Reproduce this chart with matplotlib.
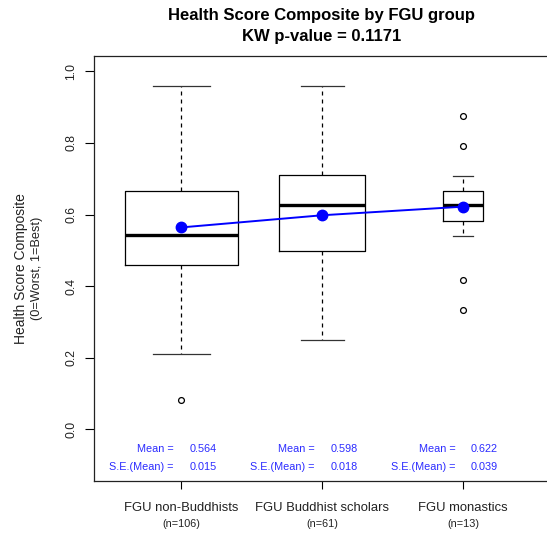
import matplotlib

matplotlib.use("Agg")
import matplotlib.pyplot as plt
import numpy as np

plt.rcParams["font.family"] = ["Liberation Sans", "DejaVu Sans"]

# ---------------------------------------------------------------- data
groups = ["FGU non-Buddhists", "FGU Buddhist scholars", "FGU monastics"]
counts = [106, 61, 13]
whisk_lo = [0.209, 0.249, 0.541]
q1 = [0.458, 0.499, 0.582]
medians = [0.542, 0.626, 0.626]
q3 = [0.666, 0.710, 0.666]
whisk_hi = [0.959, 0.960, 0.709]
outliers = [[0.081], [], [0.875, 0.791, 0.418, 0.334]]
means = [0.564, 0.598, 0.622]
se_means = [0.015, 0.018, 0.039]
p_value = 0.1171

W, H = 547, 533
fig = plt.figure(figsize=(W / 100, H / 100), dpi=100)
# axes frame in pixels: left 94, right ~550 (cropped), top 55.7, bottom 480.7
ax = fig.add_axes([94 / W, (H - 480.7) / H, 456.4 / W, 425 / H])

pos = np.arange(1, len(groups) + 1)
widths = [0.8 * np.sqrt(n / max(counts)) for n in counts]   # varwidth boxes
stats = [dict(whislo=a, q1=b, med=c, q3=d, whishi=e, fliers=f)
         for a, b, c, d, e, f in zip(whisk_lo, q1, medians, q3, whisk_hi, outliers)]

ax.bxp(stats, positions=pos, widths=widths, capwidths=[w / 2 for w in widths],
       showfliers=True, patch_artist=False,
       boxprops=dict(color="black", lw=0.9),
       whiskerprops=dict(color="black", lw=0.9, linestyle=(0, (3.2, 3.2))),
       capprops=dict(color="#333333", lw=0.9),
       medianprops=dict(color="black", lw=2.4),
       flierprops=dict(marker="o", markersize=4.2, markerfacecolor="none",
                       markeredgecolor="black", markeredgewidth=0.9))

ax.plot(pos, means, "-", color="#0000ff", lw=1.4, zorder=5)
ax.plot(pos, means, "o", color="#0000ff", ms=7.5, zorder=6)

for x, m, s in zip(pos, means, se_means):
    for y, lab, val in ((-0.056, "Mean =", m), (-0.106, "S.E.(Mean) =", s)):
        ax.annotate(lab, (x, y), xytext=(-5.5, 0), textcoords="offset points",
                    ha="right", va="center", color="#2b2bff", fontsize=7.8)
        ax.annotate(f"{val:.3f}", (x, y), xytext=(5.8, 0), textcoords="offset points",
                    ha="left", va="center", color="#2b2bff", fontsize=7.8)

ax.set_xlim(0.38, 3.62)
ax.set_ylim(-0.144, 1.044)
ax.set_yticks(np.arange(0, 1.01, 0.2))
ax.set_yticklabels([f"{v:.1f}" for v in np.arange(0, 1.01, 0.2)],
                   rotation=90, va="center", color="#222222")
ax.tick_params(axis="y", length=6.5, width=0.8, pad=5.5, labelsize=8.8)
ax.set_xticks(pos)
ax.set_xticklabels(groups, color="#222222")
ax.tick_params(axis="x", length=6, width=0.8, pad=9, labelsize=9.4)
for x, n in zip(pos, counts):
    ax.annotate(f"(n={n})", (x, 0), xycoords=("data", "axes fraction"),
                xytext=(0, -31.5), textcoords="offset points",
                ha="center", va="center", fontsize=7.8, color="#222222")

for sp in ax.spines.values():
    sp.set_linewidth(0.9)
    sp.set_color("#222222")

fig.text(322 / W, 1 - 15.7 / H, "Health Score Composite by FGU group",
         ha="center", va="center", fontsize=12, fontweight="bold")
fig.text(322 / W, 1 - 36 / H, f"KW p-value = {p_value}",
         ha="center", va="center", fontsize=12, fontweight="bold")
fig.text(20.7 / W, 1 - 268.5 / H, "Health Score Composite",
         rotation=90, ha="center", va="center", fontsize=10, color="#222222")
fig.text(36.7 / W, 1 - 268.5 / H, "(0=Worst, 1=Best)",
         rotation=90, ha="center", va="center", fontsize=9.2, color="#222222")

fig.savefig("out.png", dpi=100)
